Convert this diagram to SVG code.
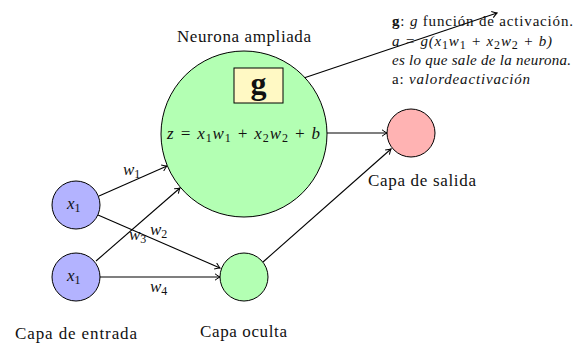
<svg xmlns="http://www.w3.org/2000/svg" width="582" height="344" viewBox="0 0 582 344">
<style>
text{font-family:Liberation Serif,DejaVu Serif,Times New Roman,serif;fill:#111}
.lbl{font-size:17px}
.m{font-style:italic}
.sub{font-size:12px;font-style:normal}
.node{stroke:#000;stroke-width:1}
.conn{stroke:#000;stroke-width:1.1;fill:none}
.in{fill:#b3b3ff}
.gr{fill:#b3ffb3}
.rd{fill:#ffb3b3}
</style>
<defs>
<marker id="ah" viewBox="-6 -4 7 8" refX="0" refY="0" markerWidth="7" markerHeight="8" markerUnits="userSpaceOnUse" orient="auto">
<path d="M-5,-3.2 Q-1.5,-0.6 0,0 Q-1.5,0.6 -5,3.2" fill="none" stroke="#000" stroke-width="1"/>
</marker>
</defs>
<rect width="582" height="344" fill="#fff"/>
<g id="connectors">
<line class="conn" x1="99" y1="196" x2="167" y2="166" marker-end="url(#ah)"/>
<line class="conn" x1="96" y1="261" x2="180" y2="188" marker-end="url(#ah)"/>
<line class="conn" x1="98" y1="215" x2="220" y2="268" marker-end="url(#ah)"/>
<line class="conn" x1="100" y1="277" x2="220" y2="277" marker-end="url(#ah)"/>
<line class="conn" x1="263" y1="262" x2="391" y2="149" marker-end="url(#ah)"/>
<line class="conn" x1="327" y1="133" x2="387" y2="133" marker-end="url(#ah)"/>
<line class="conn" x1="283" y1="85" x2="497" y2="13" marker-end="url(#ah)"/>
<text class="lbl m" x="123" y="175">w<tspan class="sub" dy="3">1</tspan></text>
<text class="lbl m" x="150" y="235">w<tspan class="sub" dy="3">2</tspan></text>
<text class="lbl m" x="129" y="240">w<tspan class="sub" dy="3">3</tspan></text>
<text class="lbl m" x="150" y="292">w<tspan class="sub" dy="3">4</tspan></text>
</g>
<g id="big-neuron">
<circle class="node gr" cx="244" cy="134" r="83"/>
<text class="lbl" x="177" y="42" textLength="134" lengthAdjust="spacing">Neurona ampliada</text>
<text class="lbl m" x="167" y="139" textLength="153" lengthAdjust="spacing">z = x<tspan class="sub" dy="3">1</tspan><tspan dy="-3">w</tspan><tspan class="sub" dy="3">1</tspan><tspan dy="-3"> + x</tspan><tspan class="sub" dy="3">2</tspan><tspan dy="-3">w</tspan><tspan class="sub" dy="3">2</tspan><tspan dy="-3"> + b</tspan></text>
</g>
<g id="g-box">
<rect x="234" y="68" width="49" height="35" fill="#fff9c4" stroke="#000" stroke-width="1"/>
<text x="258.5" y="94" text-anchor="middle" font-size="32" font-weight="bold">g</text>
</g>
<g id="input1">
<circle class="node in" cx="76" cy="205" r="24"/>
<text class="lbl m" x="67" y="209">x<tspan class="sub" dy="3">1</tspan></text>
</g>
<g id="input2">
<circle class="node in" cx="76" cy="277" r="24"/>
<text class="lbl m" x="67" y="281">x<tspan class="sub" dy="3">1</tspan></text>
</g>
<g id="hidden">
<circle class="node gr" cx="244" cy="277" r="24"/>
</g>
<g id="output">
<circle class="node rd" cx="411" cy="133" r="24"/>
<text class="lbl" x="368" y="186" textLength="108" lengthAdjust="spacing">Capa de salida</text>
</g>
<g id="layer-labels">
<text class="lbl" x="15" y="339" textLength="122" lengthAdjust="spacing">Capa de entrada</text>
<text class="lbl" x="200" y="337" textLength="87" lengthAdjust="spacing">Capa oculta</text>
</g>
<g id="note">
<text x="392" y="26" font-size="15" textLength="181" lengthAdjust="spacing"><tspan font-weight="bold">g</tspan>: <tspan class="m">g</tspan> función de activación.</text>
<text x="392" y="46" font-size="15" class="m" textLength="160" lengthAdjust="spacing">a = g(x<tspan class="sub" font-size="10" dy="3">1</tspan><tspan dy="-3">w</tspan><tspan class="sub" font-size="10" dy="3">1</tspan><tspan dy="-3"> + x</tspan><tspan class="sub" font-size="10" dy="3">2</tspan><tspan dy="-3">w</tspan><tspan class="sub" font-size="10" dy="3">2</tspan><tspan dy="-3"> + b)</tspan></text>
<text x="392" y="65" font-size="15" class="m" textLength="179" lengthAdjust="spacing">es lo que sale de la neurona.</text>
<text x="392" y="84" font-size="15" textLength="138" lengthAdjust="spacing">a: <tspan class="m">valordeactivación</tspan></text>
</g>
</svg>
